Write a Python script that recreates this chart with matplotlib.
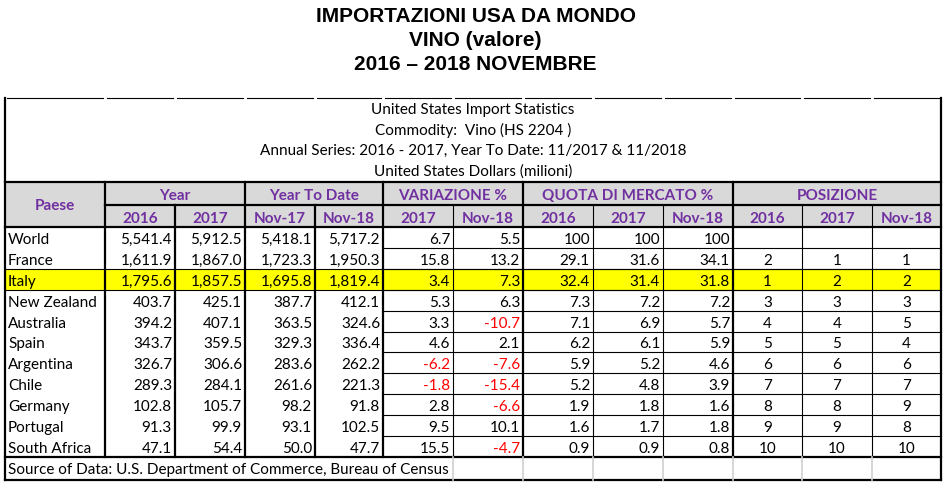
import matplotlib.pyplot as plt
import matplotlib.patches as patches

countries = ["World", "France", "Italy", "New Zealand", "Australia", "Spain",
             "Argentina", "Chile", "Germany", "Portugal", "South Africa"]
year_2016 = [5541.4, 1611.9, 1795.6, 403.7, 394.2, 343.7, 326.7, 289.3, 102.8, 91.3, 47.1]
year_2017 = [5912.5, 1867.0, 1857.5, 425.1, 407.1, 359.5, 306.6, 284.1, 105.7, 99.9, 54.4]
ytd_nov17 = [5418.1, 1723.3, 1695.8, 387.7, 363.5, 329.3, 283.6, 261.6, 98.2, 93.1, 50.0]
ytd_nov18 = [5717.2, 1950.3, 1819.4, 412.1, 324.6, 336.4, 262.2, 221.3, 91.8, 102.5, 47.7]
var_2017 = [6.7, 15.8, 3.4, 5.3, 3.3, 4.6, -6.2, -1.8, 2.8, 9.5, 15.5]
var_nov18 = [5.5, 13.2, 7.3, 6.3, -10.7, 2.1, -7.6, -15.4, -6.6, 10.1, -4.7]
quota_2016 = [100, 29.1, 32.4, 7.3, 7.1, 6.2, 5.9, 5.2, 1.9, 1.6, 0.9]
quota_2017 = [100, 31.6, 31.4, 7.2, 6.9, 6.1, 5.2, 4.8, 1.8, 1.7, 0.9]
quota_nov18 = [100, 34.1, 31.8, 7.2, 5.7, 5.9, 4.6, 3.9, 1.6, 1.8, 0.8]
pos_2016 = [None, 2, 1, 3, 4, 5, 6, 7, 8, 9, 10]
pos_2017 = [None, 1, 2, 3, 4, 5, 6, 7, 8, 9, 10]
pos_nov18 = [None, 1, 2, 3, 5, 4, 6, 7, 9, 8, 10]

groups = ["Year", "Year To Date", "VARIAZIONE %", "QUOTA DI MERCATO %", "POSIZIONE"]
group_span = [2, 2, 2, 3, 3]
sub_headers = ["2016", "2017", "Nov-17", "Nov-18", "2017", "Nov-18",
               "2016", "2017", "Nov-18", "2016", "2017", "Nov-18"]
title_lines = ["IMPORTAZIONI USA DA MONDO", "VINO (valore)", "2016 \u2013 2018 NOVEMBRE"]
info_lines = ["United States Import Statistics",
              "Commodity:  Vino (HS 2204 )",
              "Annual Series: 2016 - 2017, Year To Date: 11/2017 & 11/2018",
              "United States Dollars (milioni)"]
source = "Source of Data: U.S. Department of Commerce, Bureau of Census"
highlight = "Italy"

# layout (pixels)
col_edges = [5, 105, 175, 245, 315, 383, 453, 523, 593, 663, 733, 802, 872, 941]
thick_cols = {0, 1, 2, 3, 4, 5, 7, 10, 13}
table_top = 99
info_h = 21
head_top = table_top + 4 * info_h
head_mid = head_top + 23
head_bot = head_mid + 22
row_h = 20.9

purple = "#7030a0"
grey = "#d9d9d9"
body_font = ["Lato", "DejaVu Sans"]
fs = 11

fig = plt.figure(figsize=(9.51, 4.89), dpi=100)
ax = fig.add_axes([0, 0, 1, 1])
ax.set_xlim(0, 951)
ax.set_ylim(489, 0)
ax.axis("off")

x0, x1 = col_edges[0], col_edges[-1]
cx = (x0 + x1) / 2

for i, t in enumerate(title_lines):
    fig.text(0.5, 1 - (16 + 24.5 * i) / 489, t, ha="center", va="center",
             fontsize=15, fontweight="bold",
             family=["Liberation Sans Narrow", "Liberation Sans", "DejaVu Sans"])

for i, t in enumerate(info_lines):
    ax.text(cx, table_top + 11 + 20.5 * i, t, ha="center", va="center",
            fontsize=fs, family=body_font)

n = len(countries)
rows_bot = head_bot + n * row_h
src_bot = rows_bot + 23

# header background
ax.add_patch(patches.Rectangle((x0, head_top), x1 - x0, head_bot - head_top,
                               facecolor=grey, edgecolor="none", zorder=0))
# highlighted row
hi = countries.index(highlight)
ax.add_patch(patches.Rectangle((x0, head_bot + hi * row_h), x1 - x0, row_h,
                               facecolor="#ffff00", edgecolor="none", zorder=0))

# header text
ax.text((col_edges[0] + col_edges[1]) / 2, (head_top + head_bot) / 2 + 1, "Paese",
        ha="center", va="center", fontsize=fs, fontweight="bold", color=purple,
        family=body_font)
c = 1
for g, s in zip(groups, group_span):
    ax.text((col_edges[c] + col_edges[c + s]) / 2, (head_top + head_mid) / 2 + 2, g,
            ha="center", va="center", fontsize=fs, fontweight="bold", color=purple,
            family=body_font)
    c += s
for j, h in enumerate(sub_headers):
    ax.text((col_edges[j + 1] + col_edges[j + 2]) / 2, (head_mid + head_bot) / 2 + 2, h,
            ha="center", va="center", fontsize=fs, fontweight="bold", color=purple,
            family=body_font)

# body
def fmt_val(v):
    return f"{v:,.1f}"

def fmt_quota(v):
    return "100" if v == 100 else f"{v:.1f}"

num_cols = [(year_2016, fmt_val), (year_2017, fmt_val), (ytd_nov17, fmt_val),
            (ytd_nov18, fmt_val), (var_2017, fmt_val), (var_nov18, fmt_val),
            (quota_2016, fmt_quota), (quota_2017, fmt_quota), (quota_nov18, fmt_quota)]
pos_cols = [pos_2016, pos_2017, pos_nov18]

for i, name in enumerate(countries):
    yc = head_bot + row_h * (i + 0.5) + 1.5
    ax.text(x0 + 3, yc, name, ha="left", va="center", fontsize=fs, family=body_font)
    for j, (vals, f) in enumerate(num_cols):
        v = vals[i]
        ax.text(col_edges[j + 2] - 3, yc, f(v), ha="right", va="center", fontsize=fs,
                family=body_font, color="#ff0000" if v < 0 else "black")
    for k, vals in enumerate(pos_cols):
        if vals[i] is None:
            continue
        j = 10 + k
        ax.text((col_edges[j] + col_edges[j + 1]) / 2, yc, str(vals[i]), ha="center",
                va="center", fontsize=fs, family=body_font)

ax.text(x0 + 3, (rows_bot + src_bot) / 2 + 1, source, ha="left", va="center",
        fontsize=fs, family=body_font)

# grid lines
lw_thick, lw_thin = 1.6, 0.8
# top border drawn as segments (gaps at column edges)
for a, b in zip(col_edges[:-1], col_edges[1:]):
    ax.plot([a + 2, b - 2], [table_top, table_top], color="black", lw=lw_thin)
ax.plot([x0, x0], [table_top, src_bot], color="black", lw=lw_thick)
ax.plot([x1, x1], [table_top, src_bot], color="black", lw=lw_thick)
for y in (head_top, head_bot, rows_bot, src_bot):
    ax.plot([x0, x1], [y, y], color="black", lw=lw_thick)
ax.plot([col_edges[1], x1], [head_mid, head_mid], color="black", lw=lw_thick)

# vertical column lines
group_edges = [1]
for s in group_span:
    group_edges.append(group_edges[-1] + s)
for j in range(1, len(col_edges) - 1):
    e = col_edges[j]
    top = head_top if j in group_edges else head_mid
    ax.plot([e, e], [top, rows_bot], color="black",
            lw=lw_thick if j in thick_cols else lw_thin)
    # faint spreadsheet gridlines in the source row
    if j >= 6:
        ax.plot([e, e], [rows_bot, src_bot], color="#d0d0d0", lw=1.2)

# horizontal row lines (right block only) and around highlighted row
for i in range(1, n):
    y = head_bot + i * row_h
    ax.plot([col_edges[5], x1], [y, y], color="black", lw=lw_thin)
for y in (head_bot + hi * row_h, head_bot + (hi + 1) * row_h):
    ax.plot([x0, x1], [y, y], color="black", lw=lw_thin)

fig.savefig("out.png", dpi=100)
